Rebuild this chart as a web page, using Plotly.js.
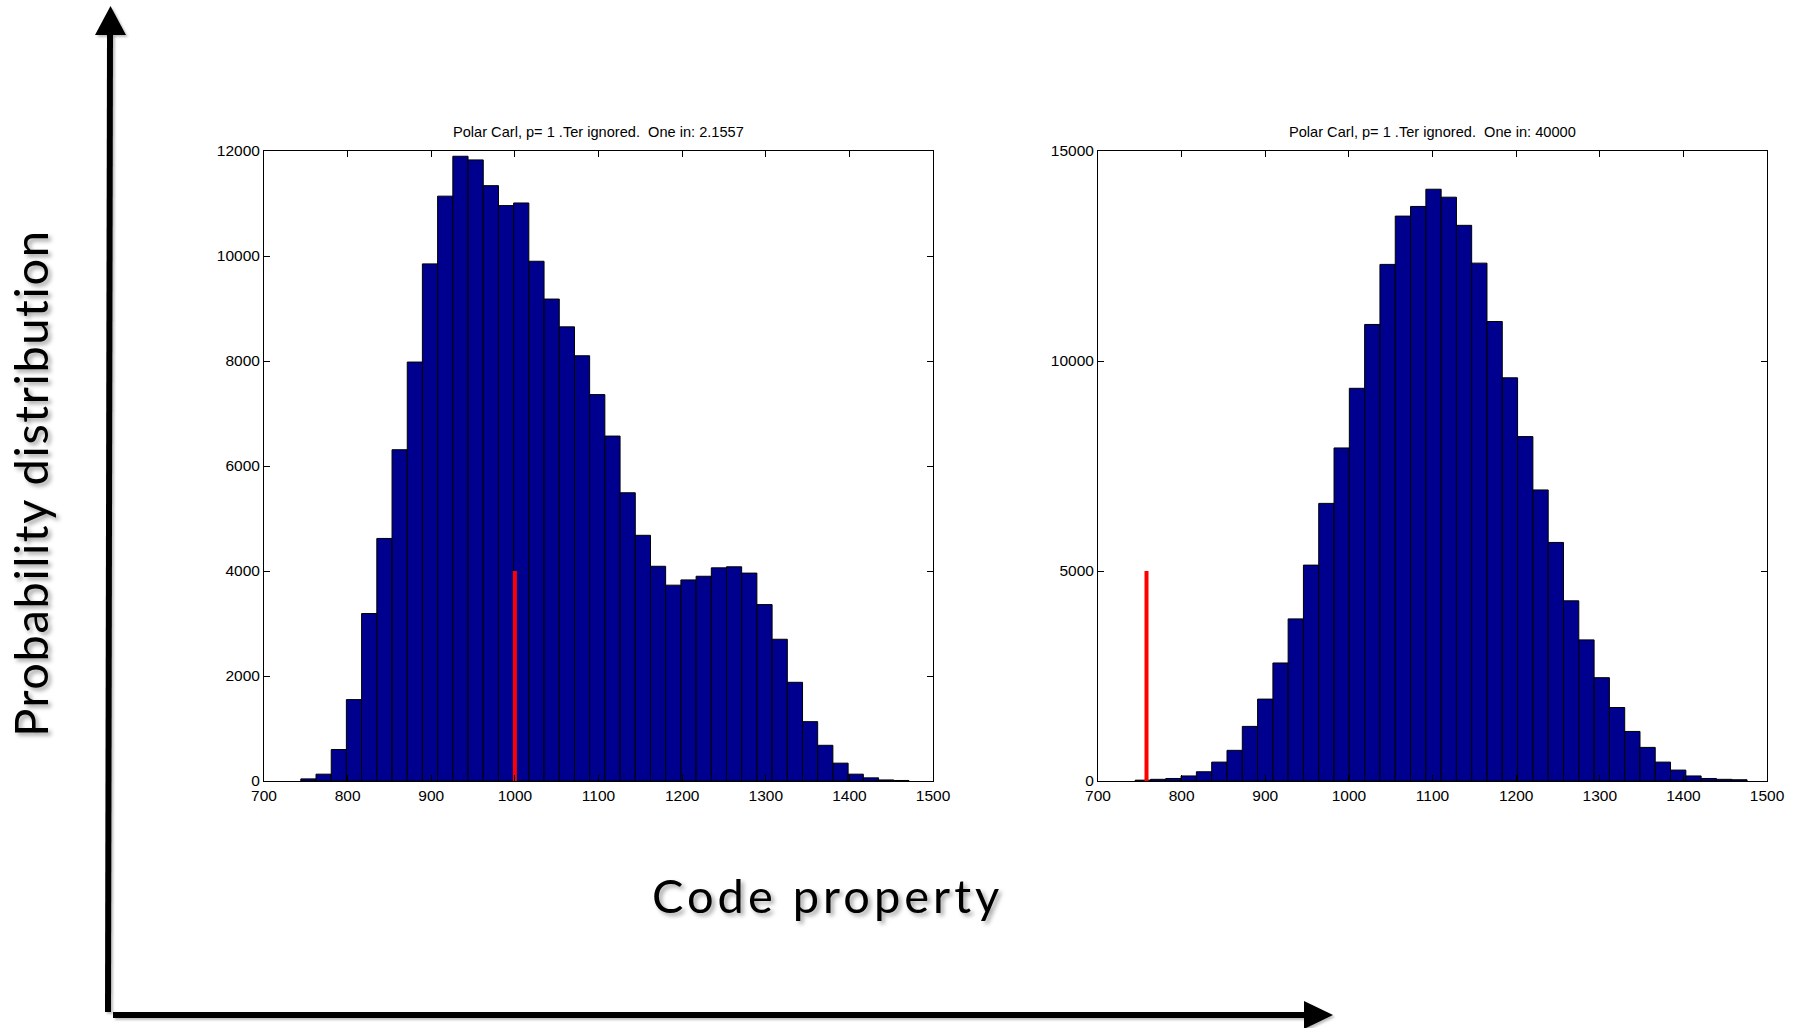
<!DOCTYPE html>
<html>
<head>
<meta charset="utf-8">
<script src="https://cdn.plot.ly/plotly-3.0.1.min.js"></script>
<style>
  html, body { margin: 0; padding: 0; background: #ffffff; }
  #chart { width: 1799px; height: 1028px; }
</style>
</head>
<body>
<div id="chart"></div>
<script>
// Histogram bin centres and counts (left: One in 2.1557, right: One in 40000)
const leftBinCenters = [753.1, 771.3, 789.5, 807.6, 825.8, 844.0, 862.2, 880.4, 898.5, 916.7,
  934.9, 953.1, 971.3, 989.4, 1007.6, 1025.8, 1044.0, 1062.2, 1080.3, 1098.5,
  1116.7, 1134.9, 1153.1, 1171.2, 1189.4, 1207.6, 1225.8, 1244.0, 1262.1, 1280.3,
  1298.5, 1316.7, 1334.9, 1353.0, 1371.2, 1389.4, 1407.6, 1425.8, 1443.9, 1462.1];
const leftCounts = [40, 130, 600, 1550, 3190, 4620, 6310, 7980, 9850, 11140,
  11900, 11830, 11340, 10960, 11010, 9900, 9180, 8650, 8100, 7360,
  6570, 5490, 4680, 4090, 3730, 3830, 3900, 4060, 4080, 3960,
  3360, 2700, 1880, 1130, 680, 340, 130, 60, 20, 10];
const leftBinWidth = 18.18;

const rightBinCenters = [753.6, 771.9, 790.2, 808.5, 826.8, 845.1, 863.4, 881.7, 900.0, 918.3,
  936.5, 954.8, 973.1, 991.4, 1009.7, 1028.0, 1046.3, 1064.6, 1082.9, 1101.2,
  1119.5, 1137.7, 1156.0, 1174.3, 1192.6, 1210.9, 1229.2, 1247.5, 1265.8, 1284.1,
  1302.4, 1320.7, 1339.0, 1357.2, 1375.5, 1393.8, 1412.1, 1430.4, 1448.7, 1467.0];
const rightCounts = [20, 40, 60, 120, 220, 450, 730, 1300, 1950, 2810,
  3860, 5140, 6610, 7930, 9350, 10870, 12300, 13450, 13680, 14090,
  13900, 13230, 12330, 10940, 9600, 8200, 6930, 5680, 4290, 3360,
  2460, 1750, 1180, 800, 450, 260, 120, 60, 40, 30];
const rightBinWidth = 18.29;

// Observed value markers (red bars)
const leftMarkerX = [1000, 1000];
const leftMarkerY = [0, 4000];
const rightMarkerX = [758, 758];
const rightMarkerY = [0, 5000];

const subplotTitles = [
  "Polar Carl, p= 1 .Ter ignored.\u00a0 One in: 2.1557",
  "Polar Carl, p= 1 .Ter ignored.\u00a0 One in: 40000"
];
const xTickVals = [700, 800, 900, 1000, 1100, 1200, 1300, 1400, 1500];
const leftYTicks = [0, 2000, 4000, 6000, 8000, 10000, 12000];
const rightYTicks = [0, 5000, 10000, 15000];
const xLabel = "Code property";
const yLabel = "Probability distribution";

// Page geometry helpers (pixels -> paper fractions)
const W = 1799, H = 1028;
const px = v => v / W;
const py = v => 1 - v / H;

const barColor = "#00008F";
const narrowFamily = "'Liberation Sans Narrow', 'Arial Narrow', 'Liberation Sans', Arial, sans-serif";
const tickFont = { family: narrowFamily, size: 15.5, color: "#000" };
const titleFont = { family: narrowFamily, size: 14.6, color: "#000" };
const bigFont = { family: "Lato, 'Noto Sans', sans-serif", size: 47, color: "#000" };

const traces = [
  { type: "bar", x: leftBinCenters, y: leftCounts, width: leftBinWidth, xaxis: "x", yaxis: "y",
    marker: { color: barColor, line: { color: "#000", width: 1 } }, hoverinfo: "x+y" },
  { type: "scatter", mode: "lines", x: leftMarkerX, y: leftMarkerY, xaxis: "x", yaxis: "y",
    line: { color: "#ff0000", width: 4 } },
  { type: "bar", x: rightBinCenters, y: rightCounts, width: rightBinWidth, xaxis: "x2", yaxis: "y2",
    marker: { color: barColor, line: { color: "#000", width: 1 } }, hoverinfo: "x+y" },
  { type: "scatter", mode: "lines", x: rightMarkerX, y: rightMarkerY, xaxis: "x2", yaxis: "y2",
    line: { color: "#ff0000", width: 4 } }
];

const axisCommon = {
  showline: true, linecolor: "#000", linewidth: 1, mirror: "ticks",
  ticks: "inside", ticklen: 6, tickwidth: 1, tickcolor: "#000", tickformat: "d",
  showgrid: false, zeroline: false, tickfont: tickFont, fixedrange: true
};

const leftDomX = [px(264), px(933)];
const rightDomX = [px(1098), px(1767)];
const domY = [py(781), py(151)];

const layout = {
  width: W, height: H,
  margin: { l: 0, r: 0, t: 0, b: 0 },
  paper_bgcolor: "#ffffff", plot_bgcolor: "#ffffff",
  showlegend: false, bargap: 0,
  xaxis: Object.assign({}, axisCommon, { domain: leftDomX, anchor: "y", range: [700, 1500], tickvals: xTickVals }),
  yaxis: Object.assign({}, axisCommon, { domain: domY, anchor: "x", range: [0, 12000], tickvals: leftYTicks }),
  xaxis2: Object.assign({}, axisCommon, { domain: rightDomX, anchor: "y2", range: [700, 1500], tickvals: xTickVals }),
  yaxis2: Object.assign({}, axisCommon, { domain: domY, anchor: "x2", range: [0, 15000], tickvals: rightYTicks }),
  annotations: [
    { text: subplotTitles[0], xref: "paper", yref: "paper", x: (leftDomX[0] + leftDomX[1]) / 2, y: py(132),
      xanchor: "center", yanchor: "middle", showarrow: false, font: titleFont },
    { text: subplotTitles[1], xref: "paper", yref: "paper", x: (rightDomX[0] + rightDomX[1]) / 2, y: py(132),
      xanchor: "center", yanchor: "middle", showarrow: false, font: titleFont },
    { text: xLabel, xref: "paper", yref: "paper", x: px(827), y: py(895),
      xanchor: "center", yanchor: "middle", showarrow: false, font: bigFont },
    { text: yLabel, xref: "paper", yref: "paper", x: px(30), y: py(483), textangle: -90,
      xanchor: "center", yanchor: "middle", showarrow: false, font: bigFont }
  ],
  shapes: [
    // vertical arrow
    { type: "line", xref: "paper", yref: "paper", x0: px(108), y0: py(1012), x1: px(110), y1: py(34),
      line: { color: "#000", width: 6 } },
    { type: "path", xref: "paper", yref: "paper",
      path: `M ${px(95)} ${py(35)} L ${px(126)} ${py(35)} L ${px(110.5)} ${py(6)} Z`,
      fillcolor: "#000", line: { color: "#000", width: 0 } },
    // horizontal arrow
    { type: "line", xref: "paper", yref: "paper", x0: px(113), y0: py(1015), x1: px(1306), y1: py(1015),
      line: { color: "#000", width: 6 } },
    { type: "path", xref: "paper", yref: "paper",
      path: `M ${px(1304)} ${py(1001)} L ${px(1304)} ${py(1029)} L ${px(1333)} ${py(1015)} Z`,
      fillcolor: "#000", line: { color: "#000", width: 0 } }
  ]
};

Plotly.newPlot("chart", traces, layout, { staticPlot: true }).then(gd => {
  // wide tracking and a soft drop shadow on the large axis captions
  gd.querySelectorAll("g.annotation").forEach(g => {
    const t = g.textContent;
    const txt = g.querySelector("text");
    if (t === xLabel) {
      txt.style.letterSpacing = "4px";
      g.style.filter = "drop-shadow(3px 3px 2px rgba(0,0,0,0.35))";
    } else if (t === yLabel) {
      txt.style.letterSpacing = "1.6px";
      g.style.filter = "drop-shadow(3px 3px 2px rgba(0,0,0,0.35))";
    }
  });
  gd.querySelectorAll(".shapelayer path").forEach(p => {
    p.style.filter = "drop-shadow(2px 2px 1px rgba(0,0,0,0.25))";
  });
});
</script>
</body>
</html>
